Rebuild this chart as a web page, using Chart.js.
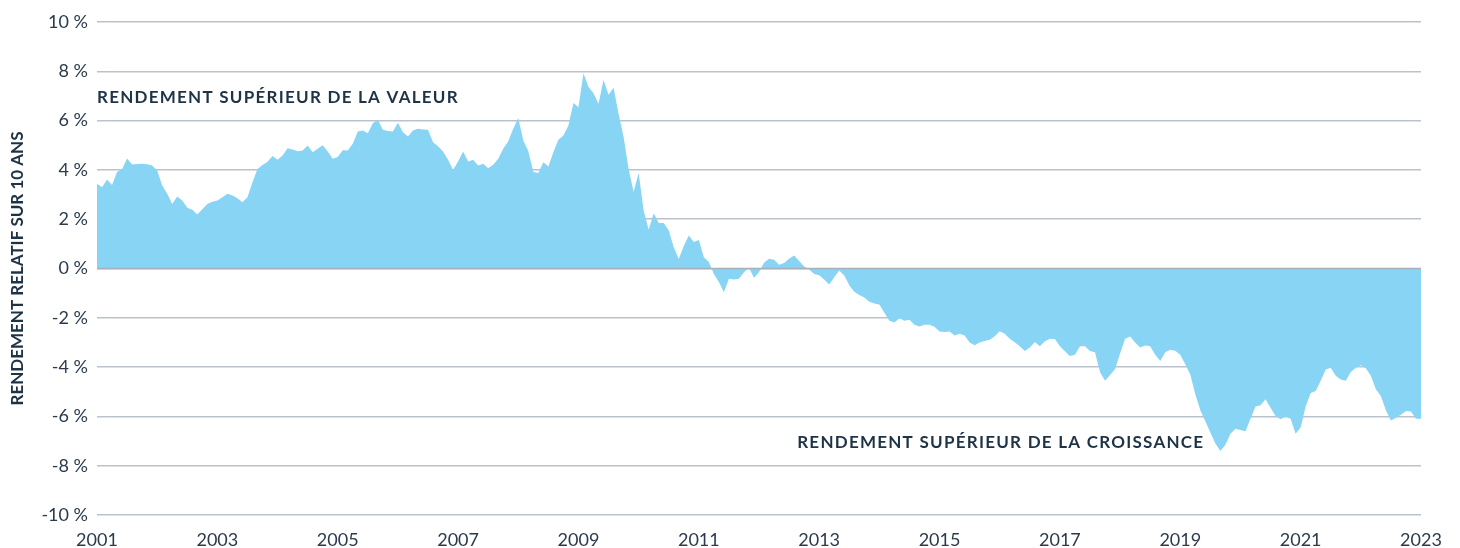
<!DOCTYPE html>
<html lang="fr">
<head>
<meta charset="utf-8">
<title>Rendement relatif sur 10 ans</title>
<script src="https://cdn.jsdelivr.net/npm/chart.js@4.4.1/dist/chart.umd.min.js"></script>
<style>
    html, body { margin: 0; padding: 0; background: #fff; }
</style>
</head>
<body>
<canvas id="chart" width="1460" height="548"></canvas>
<script>
// monthly series, january 2001 -> january 2023 (%)
const startYear = 2001;
const relativeReturn = [
    3.44, 3.30, 3.61, 3.39, 3.91, 4.04, 4.46, 4.22, 4.24, 4.25, 4.23, 4.18,
    3.98, 3.37, 3.03, 2.62, 2.92, 2.76, 2.46, 2.38, 2.19, 2.40, 2.62, 2.71,
    2.76, 2.89, 3.03, 2.96, 2.85, 2.69, 2.89, 3.50, 4.04, 4.20, 4.33, 4.56,
    4.41, 4.58, 4.88, 4.83, 4.76, 4.79, 4.99, 4.72, 4.86, 5.00, 4.75, 4.45,
    4.52, 4.80, 4.79, 5.06, 5.56, 5.60, 5.49, 5.89, 6.03, 5.63, 5.58, 5.56,
    5.91, 5.53, 5.36, 5.60, 5.67, 5.64, 5.63, 5.12, 4.96, 4.75, 4.41, 4.00,
    4.34, 4.75, 4.34, 4.41, 4.18, 4.25, 4.07, 4.21, 4.45, 4.86, 5.16, 5.67,
    6.11, 5.19, 4.76, 3.91, 3.87, 4.31, 4.14, 4.72, 5.22, 5.40, 5.80, 6.71,
    6.54, 7.92, 7.36, 7.11, 6.68, 7.65, 7.05, 7.33, 6.27, 5.33, 4.04, 3.10,
    3.87, 2.35, 1.57, 2.24, 1.85, 1.85, 1.54, 0.86, 0.39, 0.91, 1.34, 1.07,
    1.16, 0.46, 0.26, -0.22, -0.55, -0.96, -0.42, -0.45, -0.42, -0.15, 0.03, -0.38,
    -0.15, 0.23, 0.40, 0.35, 0.15, 0.22, 0.40, 0.53, 0.30, 0.08, -0.04, -0.22,
    -0.27, -0.45, -0.65, -0.35, -0.08, -0.28, -0.68, -0.94, -1.08, -1.18, -1.35, -1.42,
    -1.46, -1.80, -2.12, -2.19, -2.02, -2.12, -2.08, -2.28, -2.35, -2.28, -2.28, -2.36,
    -2.56, -2.58, -2.56, -2.72, -2.65, -2.72, -3.00, -3.11, -3.00, -2.94, -2.89, -2.75,
    -2.55, -2.65, -2.85, -2.99, -3.15, -3.35, -3.20, -2.98, -3.15, -2.95, -2.85, -2.86,
    -3.15, -3.36, -3.55, -3.50, -3.15, -3.15, -3.35, -3.40, -4.20, -4.55, -4.32, -4.08,
    -3.45, -2.85, -2.76, -3.00, -3.20, -3.12, -3.15, -3.50, -3.75, -3.40, -3.30, -3.34,
    -3.50, -3.88, -4.30, -5.10, -5.75, -6.20, -6.65, -7.10, -7.40, -7.15, -6.70, -6.50,
    -6.55, -6.60, -6.10, -5.60, -5.55, -5.30, -5.65, -5.98, -6.12, -6.00, -6.10, -6.70,
    -6.45, -5.60, -5.05, -4.97, -4.55, -4.10, -4.03, -4.35, -4.50, -4.55, -4.20, -4.03,
    -3.92, -4.05, -4.35, -4.90, -5.17, -5.75, -6.17, -6.05, -5.93, -5.78, -5.80, -6.10,
    -6.10
];

const xRange = [2001, 2023];
const yRange = [-10, 10];
const yAxisTitle = 'RENDEMENT RELATIF SUR 10 ANS';

const notes = [
    { text: 'RENDEMENT SUPÉRIEUR DE LA VALEUR', year: 2001, value: 6.95, align: 'left' },
    { text: 'RENDEMENT SUPÉRIEUR DE LA CROISSANCE', year: 2019.4, value: -7.05, align: 'right' }
];

const AREA_COLOR = '#87d4f5';
const GRID_COLOR = '#bcc2cb';
const TEXT_COLOR = '#2b3b4d';
const TITLE_COLOR = '#1f3347';

const points = relativeReturn.map((v, i) => ({ x: startYear + i / 12, y: v }));

// draws the two labels and puts the zero line back over the fill
const overlayPlugin = {
    id: 'overlay',
    afterDatasetsDraw(chart) {
        const { ctx, chartArea, scales } = chart;
        const y0 = scales.y.getPixelForValue(0);
        ctx.save();
        ctx.strokeStyle = '#a9b0ba';
        ctx.lineWidth = 1.5;
        ctx.beginPath();
        ctx.moveTo(chartArea.left, y0);
        ctx.lineTo(chartArea.right, y0);
        ctx.stroke();

        ctx.fillStyle = TITLE_COLOR;
        ctx.font = 'bold 17px Lato, "Open Sans", sans-serif';
        ctx.letterSpacing = '1.25px';
        ctx.textBaseline = 'middle';
        notes.forEach(n => {
            ctx.textAlign = n.align;
            ctx.fillText(n.text, scales.x.getPixelForValue(n.year), scales.y.getPixelForValue(n.value));
        });
        ctx.restore();
    }
};

new Chart(document.getElementById('chart'), {
    type: 'line',
    data: {
        datasets: [{
            data: points,
            backgroundColor: AREA_COLOR,
            borderWidth: 0,
            pointRadius: 0,
            tension: 0,
            fill: 'origin'
        }]
    },
    options: {
        responsive: false,
        animation: false,
        devicePixelRatio: 1,
        layout: { padding: { top: 22, right: 39, bottom: 0, left: 0 } },
        plugins: {
            legend: { display: false },
            tooltip: { enabled: false }
        },
        scales: {
            x: {
                type: 'linear',
                min: xRange[0],
                max: xRange[1],
                afterFit: scale => { scale.height = 33; },
                grid: { display: false, drawTicks: false },
                border: { display: false },
                ticks: {
                    stepSize: 2,
                    padding: 14,
                    maxRotation: 0,
                    color: TEXT_COLOR,
                    font: { family: 'Lato, sans-serif', size: 18 },
                    callback: v => String(v)
                }
            },
            y: {
                min: yRange[0],
                max: yRange[1],
                afterFit: scale => { scale.width = 97; },
                grid: { color: GRID_COLOR, lineWidth: 1.5, drawTicks: false },
                border: { display: false },
                ticks: {
                    stepSize: 2,
                    padding: 9,
                    color: TEXT_COLOR,
                    font: { family: 'Lato, sans-serif', size: 18 },
                    callback: v => v + ' %'
                },
                title: {
                    display: true,
                    text: yAxisTitle,
                    color: TITLE_COLOR,
                    padding: { top: 7, bottom: 0 },
                    font: { family: 'Lato, sans-serif', size: 17, weight: 'bold' }
                }
            }
        }
    },
    plugins: [overlayPlugin]
});
</script>
</body>
</html>
